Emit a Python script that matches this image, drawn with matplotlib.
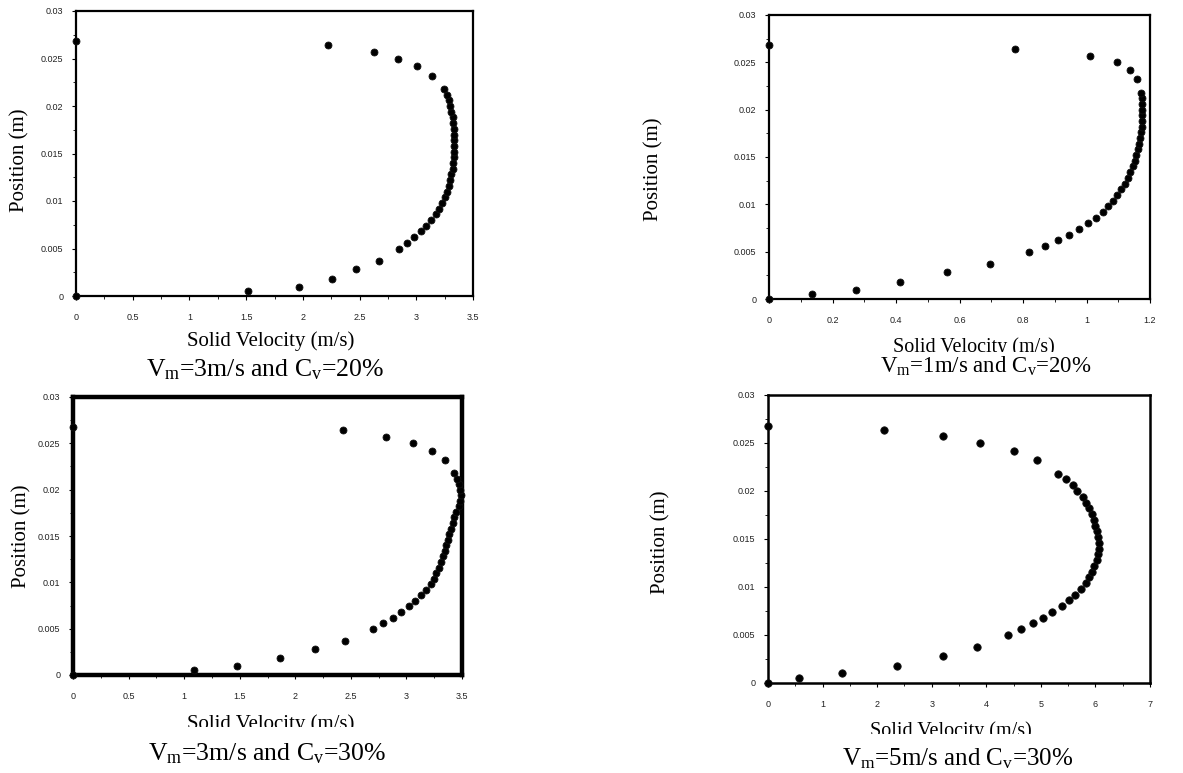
import matplotlib
matplotlib.use("Agg")
import matplotlib.pyplot as plt
from matplotlib.ticker import MultipleLocator, FuncFormatter
from matplotlib.transforms import Bbox

plt.rcParams['mathtext.fontset'] = 'custom'
plt.rcParams['mathtext.rm'] = 'Liberation Serif'
plt.rcParams['mathtext.it'] = 'Liberation Serif:italic'

# ---------------- data ----------------
Y_POS = [0, 0.0005, 0.001, 0.0018, 0.0028, 0.0037,
         0.005, 0.0056, 0.0062, 0.0068, 0.0074, 0.008, 0.0086, 0.0092, 0.0098, 0.0104,
         0.011, 0.0116, 0.0122, 0.0128, 0.0134, 0.014, 0.0146, 0.0152, 0.0158, 0.0164,
         0.017, 0.0176, 0.0182, 0.0188, 0.0194, 0.02, 0.0206, 0.0212, 0.0218,
         0.0232, 0.0242, 0.025, 0.0257, 0.0264, 0.0268]

VEL_3_20 = [0, 1.52, 1.97, 2.26, 2.47, 2.67,
            2.85, 2.92, 2.98, 3.04, 3.09, 3.13, 3.17, 3.20, 3.23, 3.25,
            3.27, 3.29, 3.30, 3.31, 3.32, 3.325, 3.33, 3.335, 3.335, 3.335,
            3.335, 3.33, 3.325, 3.32, 3.31, 3.30, 3.29, 3.27, 3.24,
            3.14, 3.01, 2.84, 2.63, 2.22, 0]

VEL_1_20 = [0, 0.134, 0.273, 0.414, 0.56, 0.696,
            0.82, 0.869, 0.91, 0.946, 0.977, 1.006, 1.03, 1.051, 1.068, 1.083,
            1.096, 1.108, 1.12, 1.13, 1.138, 1.145, 1.152, 1.157, 1.162, 1.166,
            1.168, 1.171, 1.174, 1.175, 1.175, 1.175, 1.175, 1.175, 1.172,
            1.159, 1.138, 1.095, 1.011, 0.776, 0]

VEL_3_30 = [0, 1.09, 1.48, 1.86, 2.18, 2.45,
            2.70, 2.79, 2.875, 2.95, 3.02, 3.08, 3.13, 3.18, 3.22, 3.25,
            3.27, 3.29, 3.31, 3.33, 3.345, 3.36, 3.37, 3.385, 3.40, 3.415,
            3.43, 3.45, 3.47, 3.485, 3.49, 3.485, 3.475, 3.455, 3.43,
            3.35, 3.23, 3.06, 2.82, 2.43, 0]

VEL_5_30 = [0, 0.56, 1.36, 2.36, 3.2, 3.83,
            4.40, 4.64, 4.86, 5.04, 5.21, 5.38, 5.51, 5.63, 5.74, 5.83,
            5.89, 5.935, 5.98, 6.02, 6.045, 6.06, 6.06, 6.05, 6.03, 6.0,
            5.97, 5.935, 5.89, 5.83, 5.77, 5.67, 5.58, 5.455, 5.32,
            4.935, 4.50, 3.885, 3.2, 2.13, 0]

CAPTIONS = [r'V$_{\mathrm{m}}$=3m/s and C$_{\mathrm{v}}$=20%',
            r'V$_{\mathrm{m}}$=1m/s and C$_{\mathrm{v}}$=20%',
            r'V$_{\mathrm{m}}$=3m/s and C$_{\mathrm{v}}$=30%',
            r'V$_{\mathrm{m}}$=5m/s and C$_{\mathrm{v}}$=30%']
XLABEL = 'Solid Velocity (m/s)'
YLABEL = 'Position (m)'

W, H = 1183, 773
fig = plt.figure(figsize=(W / 100, H / 100), dpi=100)


def fx(px):
    return px / W


def fy(py):
    return 1 - py / H


panels = [
    dict(x=VEL_3_20, xmax=3.5, xmaj=0.5, xmin=0.25, box=(76, 11, 473, 296), lw=1.6, ms=5.0,
         cap=CAPTIONS[0], capxy=(265, 376), capfs=18.5, xl=(271, 346), xlfs=15, clip=None,
         yl=(20, 160), ylfs=15),
    dict(x=VEL_1_20, xmax=1.2, xmaj=0.2, xmin=0.1, box=(769, 15, 1150, 299), lw=1.6, ms=5.0,
         cap=CAPTIONS[1], capxy=(986, 373), capfs=16.5, xl=(974, 352), xlfs=14.5, clip=351.5,
         yl=(654, 169), ylfs=15),
    dict(x=VEL_3_30, xmax=3.5, xmaj=0.5, xmin=0.25, box=(73, 397, 462, 675), lw=3.2, ms=5.0,
         cap=CAPTIONS[2], capxy=(267, 760), capfs=18.5, xl=(271, 729), xlfs=15, clip=727,
         yl=(22, 536), ylfs=15),
    dict(x=VEL_5_30, xmax=7, xmaj=1, xmin=0.5, box=(768, 395, 1150, 683), lw=1.8, ms=5.3,
         cap=CAPTIONS[3], capxy=(958, 765), capfs=18, xl=(951, 736), xlfs=14.5, clip=733.5,
         yl=(661, 542), ylfs=15),
]

tick_fmt = FuncFormatter(lambda v, p: ('%g' % round(v, 6)))

for p in panels:
    l, t, r, b = p['box']
    ax = fig.add_axes([fx(l), fy(b), fx(r) - fx(l), fy(t) - fy(b)])
    ax.plot(p['x'], Y_POS, linestyle='none', marker='o', color='black',
            markersize=p['ms'], markeredgewidth=0.6, markeredgecolor='#111111',
            clip_on=False, zorder=5)
    ax.set_xlim(0, p['xmax'])
    ax.set_ylim(0, 0.03)
    ax.xaxis.set_major_locator(MultipleLocator(p['xmaj']))
    ax.xaxis.set_minor_locator(MultipleLocator(p['xmin']))
    ax.yaxis.set_major_locator(MultipleLocator(0.005))
    ax.yaxis.set_minor_locator(MultipleLocator(0.0025))
    ax.xaxis.set_major_formatter(tick_fmt)
    ax.yaxis.set_major_formatter(tick_fmt)
    for s in ax.spines.values():
        s.set_linewidth(p['lw'])
        s.set_color('black')
    ax.tick_params(which='major', direction='out', length=3, width=0.8,
                   labelsize=6.5, colors='black', labelcolor='#222222',
                   labelfontfamily='Liberation Sans')
    ax.tick_params(which='minor', direction='out', length=2, width=0.6)
    ax.tick_params(axis='x', which='major', pad=9)
    ax.tick_params(axis='y', which='major', pad=6)

    xt = fig.text(fx(p['xl'][0]), fy(p['xl'][1]), XLABEL, ha='center', va='baseline',
                  fontsize=p['xlfs'], family='Liberation Serif')
    if p['clip'] is not None:
        ybot = H - p['clip']
        xt.set_clip_box(Bbox([[0, ybot], [W, H]]))
        xt.set_clip_on(True)
    fig.text(fx(p['yl'][0]), fy(p['yl'][1]), YLABEL, ha='center', va='center',
             rotation=90, fontsize=p['ylfs'], family='Liberation Serif')
    fig.text(fx(p['capxy'][0]), fy(p['capxy'][1]), p['cap'], ha='center', va='baseline',
             fontsize=p['capfs'], family='Liberation Serif')

fig.savefig('out.png', dpi=100)
